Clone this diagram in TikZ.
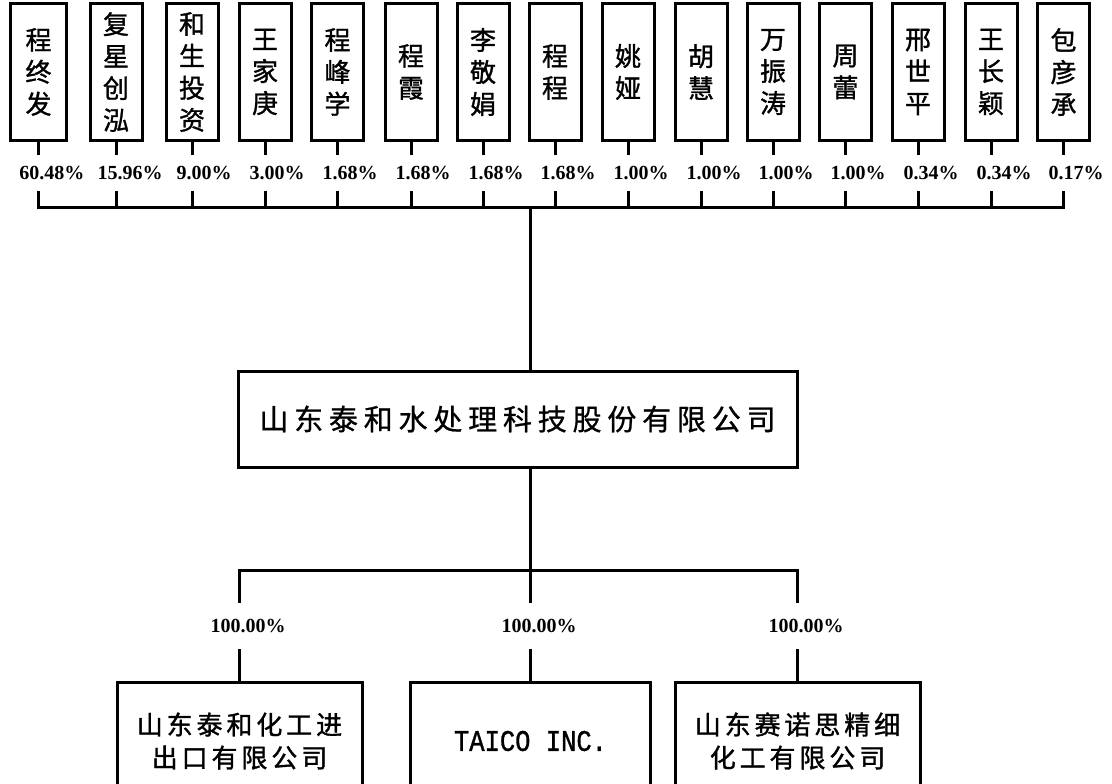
\documentclass[tikz,border=0pt]{standalone}
\usepackage{fontspec}
\newfontfamily\cjk{Noto Sans CJK SC}[FakeBold=1.2]
\newfontfamily\cjkwide{Noto Sans CJK SC}[LetterSpace=20,FakeBold=0.8]
\newfontfamily\cjkmid{Noto Sans CJK SC}[LetterSpace=15,FakeBold=1.2]
\newfontfamily\pctfont{Liberation Serif}
\newfontfamily\taicofont{Liberation Mono}[FakeStretch=0.85,FakeBold=1]
\begin{document}
\begin{tikzpicture}[x=1pt,y=-1pt,line width=3pt,
  namebox/.style={draw,line width=3pt,minimum width=52pt,minimum height=136pt,inner sep=0pt,align=center,font=\cjk\fontsize{26}{32}\selectfont},
  pctlabel/.style={inner sep=0pt,minimum height=33pt,font=\pctfont\bfseries\fontsize{20}{20}\selectfont},
  pctlow/.style={inner sep=0pt,minimum height=43pt,font=\pctfont\bfseries\fontsize{20}{20}\selectfont},
  mainbox/.style={draw,line width=3pt,minimum width=559pt,minimum height=96pt,inner sep=0pt,font=\cjkwide\fontsize{29}{29}\selectfont},
  subbox/.style={draw,line width=3pt,minimum width=245pt,minimum height=118pt,inner sep=0pt,align=center,font=\cjkmid\fontsize{26}{33}\selectfont}]
\fill[white] (0,0) rectangle (1112,784);
\useasboundingbox (0,0) rectangle (1112,784);
\clip (0,0) rectangle (1112,784);

% shareholders
\node[namebox,minimum width=56pt] (b1) at (38.5,72) {程\\终\\发};
\node[namebox] (b2) at (116,72) {复\\星\\创\\泓};
\node[namebox] (b3) at (192,72) {和\\生\\投\\资};
\node[namebox] (b4) at (265,72) {王\\家\\庚};
\node[namebox] (b5) at (337.5,72) {程\\峰\\学};
\node[namebox] (b6) at (411,72) {程\\霞};
\node[namebox] (b7) at (483,72) {李\\敬\\娟};
\node[namebox] (b8) at (555,72) {程\\程};
\node[namebox] (b9) at (628,72) {姚\\娅};
\node[namebox] (b10) at (701,72) {胡\\慧};
\node[namebox] (b11) at (773,72) {万\\振\\涛};
\node[namebox] (b12) at (845.5,72) {周\\蕾};
\node[namebox] (b13) at (918,72) {邢\\世\\平};
\node[namebox] (b14) at (991,72) {王\\长\\颖};
\node[namebox] (b15) at (1063.5,72) {包\\彦\\承};

\node[pctlabel] (p1) at (52,173) {60.48\%};
\node[pctlabel] (p2) at (130,173) {15.96\%};
\node[pctlabel] (p3) at (204,173) {9.00\%};
\node[pctlabel] (p4) at (277,173) {3.00\%};
\node[pctlabel] (p5) at (350,173) {1.68\%};
\node[pctlabel] (p6) at (423,173) {1.68\%};
\node[pctlabel] (p7) at (496,173) {1.68\%};
\node[pctlabel] (p8) at (568,173) {1.68\%};
\node[pctlabel] (p9) at (641,173) {1.00\%};
\node[pctlabel] (p10) at (714,173) {1.00\%};
\node[pctlabel] (p11) at (786,173) {1.00\%};
\node[pctlabel] (p12) at (858,173) {1.00\%};
\node[pctlabel] (p13) at (931,173) {0.34\%};
\node[pctlabel] (p14) at (1004,173) {0.34\%};
\node[pctlabel] (p15) at (1076,173) {0.17\%};

\coordinate (trunk) at (530,207);

\foreach \i in {1,...,15}{
  \draw (b\i.south) -- (b\i.south |- p\i.north);
}
\draw (b1.south |- p1.south) -- (b1.south |- trunk) -- (b15.south |- trunk) -- (b15.south |- p15.south);
\foreach \i in {2,...,14}{
  \draw (b\i.south |- p\i.south) -- (b\i.south |- trunk);
}

% main company
\node[mainbox] (main) at (517.5,419) {山东泰和水处理科技股份有限公司};
\draw (trunk) -- (trunk |- main.north);

\coordinate (hub) at (530,570);
\draw (trunk |- main.south) -- (hub);

% subsidiaries
\node[subbox] (s1) at (239.5,741) {山东泰和化工进\\出口有限公司};
\node[subbox,minimum width=240pt] (s2) at (530.5,741) {\taicofont\fontsize{30}{30}\selectfont TAICO INC.};
\node[subbox] (s3) at (797.5,741) {山东赛诺思精细\\化工有限公司};

\node[pctlow] (q1) at (248,626) {100.00\%};
\node[pctlow] (q2) at (539,626) {100.00\%};
\node[pctlow] (q3) at (806,626) {100.00\%};

\draw (s1.north |- q1.north) -- (s1.north |- hub) -- (s3.north |- hub) -- (s3.north |- q3.north);
\draw (s2.north |- q2.north) -- (s2.north |- hub);
\draw (s1.north) -- (s1.north |- q1.south);
\draw (s2.north) -- (s2.north |- q2.south);
\draw (s3.north) -- (s3.north |- q3.south);
\end{tikzpicture}
\end{document}
